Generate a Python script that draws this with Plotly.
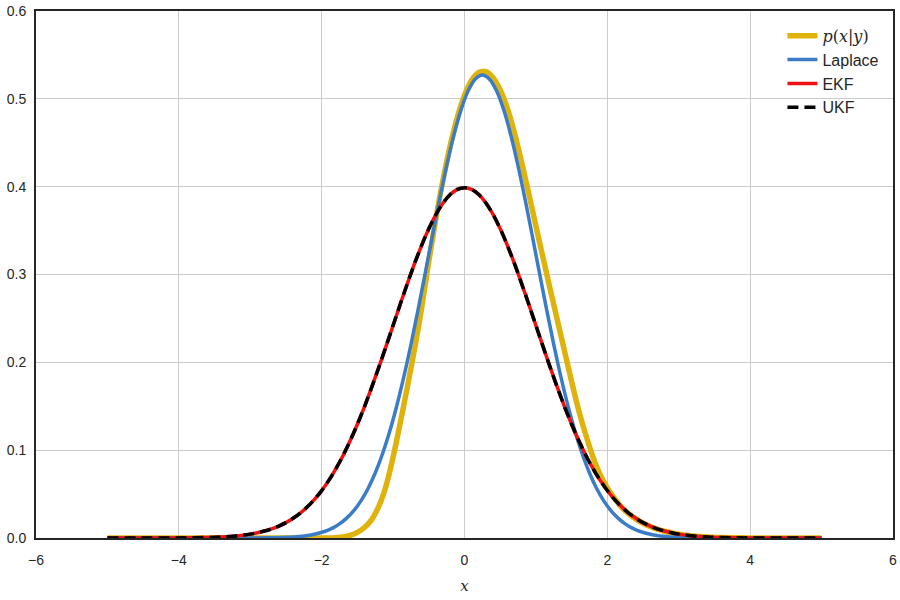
import plotly.graph_objects as go

# ---- data ----
# EKF / UKF (identical curves)
x_ekf = [-5.0, -4.5, -4.0, -3.8, -3.6, -3.4, -3.2, -3.0, -2.9, -2.8, -2.7, -2.6, -2.5, -2.4,
         -2.3, -2.2, -2.1, -2.0, -1.9, -1.8, -1.7, -1.6, -1.5, -1.4, -1.3, -1.2, -1.1, -1.0,
         -0.9, -0.8, -0.7, -0.6, -0.5, -0.4, -0.3, -0.2, -0.1, 0.0, 0.1, 0.2, 0.3, 0.4, 0.5,
         0.6, 0.7, 0.8, 0.9, 1.0, 1.1, 1.2, 1.3, 1.4, 1.5, 1.6, 1.7, 1.8, 1.9, 2.0, 2.1, 2.2,
         2.3, 2.4, 2.5, 2.6, 2.7, 2.8, 2.9, 3.0, 3.2, 3.4, 3.6, 3.8, 4.0, 4.5, 5.0]
y_ekf = [0.0, 0.00002, 0.0001, 0.0003, 0.0006, 0.0012, 0.0024, 0.0044, 0.006, 0.0079, 0.0104,
         0.0136, 0.0175, 0.0224, 0.0283, 0.0355, 0.044, 0.054, 0.0656, 0.079, 0.094, 0.1109,
         0.1295, 0.1497, 0.1714, 0.1942, 0.2179, 0.242, 0.2661, 0.2897, 0.3123, 0.3332, 0.3521,
         0.3683, 0.3814, 0.391, 0.397, 0.3989, 0.397, 0.391, 0.3814, 0.3683, 0.3521, 0.3332,
         0.3123, 0.2897, 0.2661, 0.242, 0.2179, 0.1942, 0.1714, 0.1497, 0.1295, 0.1109, 0.094,
         0.079, 0.0656, 0.054, 0.044, 0.0355, 0.0283, 0.0224, 0.0175, 0.0136, 0.0104, 0.0079,
         0.006, 0.0044, 0.0024, 0.0012, 0.0006, 0.0003, 0.0001, 0.00002, 0.0]
y_ukf = [0.0, 0.00002, 0.0001, 0.0003, 0.0006, 0.0012, 0.0024, 0.0044, 0.006, 0.0079, 0.0104,
         0.0136, 0.0175, 0.0224, 0.0283, 0.0355, 0.044, 0.054, 0.0656, 0.079, 0.094, 0.1109,
         0.1295, 0.1497, 0.1714, 0.1942, 0.2179, 0.242, 0.2661, 0.2897, 0.3123, 0.3332, 0.3521,
         0.3683, 0.3814, 0.391, 0.397, 0.3989, 0.397, 0.391, 0.3814, 0.3683, 0.3521, 0.3332,
         0.3123, 0.2897, 0.2661, 0.242, 0.2179, 0.1942, 0.1714, 0.1497, 0.1295, 0.1109, 0.094,
         0.079, 0.0656, 0.054, 0.044, 0.0355, 0.0283, 0.0224, 0.0175, 0.0136, 0.0104, 0.0079,
         0.006, 0.0044, 0.0024, 0.0012, 0.0006, 0.0003, 0.0001, 0.00002, 0.0]

# Laplace approximation
x_lap = [-5.0, -4.0, -3.15, -2.75, -2.55, -2.35, -2.15, -1.95, -1.85, -1.75, -1.65, -1.55,
         -1.45, -1.35, -1.25, -1.15, -1.05, -0.95, -0.85, -0.75, -0.65, -0.55, -0.45, -0.35,
         -0.25, -0.15, -0.05, 0.05, 0.15, 0.25, 0.35, 0.45, 0.55, 0.65, 0.75, 0.85, 0.95, 1.05,
         1.15, 1.25, 1.35, 1.45, 1.55, 1.65, 1.75, 1.85, 1.95, 2.05, 2.15, 2.25, 2.35, 2.45,
         2.65, 2.85, 3.05, 3.25, 3.65, 4.0, 5.0]
y_lap = [0.0, 0.0, 0.00002, 0.0002, 0.0006, 0.0014, 0.0035, 0.0077, 0.0112, 0.0161, 0.0226,
         0.0312, 0.0423, 0.0564, 0.074, 0.0953, 0.1206, 0.15, 0.1834, 0.2202, 0.26, 0.3015,
         0.3437, 0.3849, 0.4237, 0.4583, 0.4872, 0.5089, 0.5224, 0.527, 0.5224, 0.5089, 0.4872,
         0.4583, 0.4237, 0.3849, 0.3437, 0.3015, 0.26, 0.2202, 0.1834, 0.15, 0.1206, 0.0953,
         0.074, 0.0564, 0.0423, 0.0312, 0.0226, 0.0161, 0.0112, 0.0077, 0.0035, 0.0014, 0.0006,
         0.0002, 0.00002, 0.0, 0.0]

# true posterior p(x|y)
x_post = [-5.0, -4.0, -3.0, -2.5, -2.0, -1.9, -1.8, -1.7, -1.6, -1.5, -1.4, -1.3, -1.2, -1.1,
          -1.0, -0.9, -0.8, -0.7, -0.6, -0.5, -0.4, -0.3, -0.2, -0.1, 0.0, 0.1, 0.2, 0.3, 0.4,
          0.5, 0.6, 0.7, 0.8, 0.9, 1.0, 1.1, 1.2, 1.3, 1.4, 1.5, 1.6, 1.7, 1.8, 1.9, 2.0, 2.1,
          2.2, 2.3, 2.4, 2.5, 2.6, 2.7, 2.8, 2.9, 3.0, 3.2, 3.4, 3.6, 3.8, 4.0, 4.5, 5.0]
y_post = [0.0, 0.0, 0.0, 0.0, 0.0, 0.0, 0.0004, 0.0012, 0.003, 0.0065, 0.012, 0.021, 0.036,
          0.059, 0.092, 0.131, 0.172, 0.215, 0.262, 0.315, 0.364, 0.408, 0.447, 0.479, 0.504,
          0.521, 0.53, 0.531, 0.524, 0.51, 0.489, 0.461, 0.428, 0.392, 0.355, 0.319, 0.283,
          0.248, 0.213, 0.178, 0.145, 0.117, 0.092, 0.072, 0.057, 0.045, 0.035, 0.0275, 0.0215,
          0.0168, 0.013, 0.01, 0.0077, 0.0059, 0.0044, 0.0024, 0.0012, 0.0006, 0.0003, 0.0001,
          0.0, 0.0]

x_ticks = [-6, -4, -2, 0, 2, 4, 6]
y_ticks = [0.0, 0.1, 0.2, 0.3, 0.4, 0.5, 0.6]

DARK = "#262626"
serif = "DejaVu Serif"
line_shape = dict(shape="spline", smoothing=1.0)

fig = go.Figure()
fig.add_trace(go.Scatter(
    x=x_post, y=y_post, mode="lines", line=dict(color="#dfb30c", width=5.5, **line_shape),
    name=f'<span style="font-family:{serif}"><i>p</i>(<i>x</i>|<i>y</i>)</span>'))
fig.add_trace(go.Scatter(
    x=x_lap, y=y_lap, mode="lines", line=dict(color="#3a7dc6", width=3.5, **line_shape),
    name="Laplace"))
fig.add_trace(go.Scatter(
    x=x_ekf, y=y_ekf, mode="lines", line=dict(color="#ee1111", width=3.5, **line_shape),
    name="EKF"))
fig.add_trace(go.Scatter(
    x=x_ekf, y=y_ukf, mode="lines", line=dict(color="black", width=3.5, dash="11px,6px", **line_shape),
    name="UKF"))

fig.update_layout(
    width=900, height=600,
    margin=dict(l=36, r=7, t=11, b=62),
    paper_bgcolor="white", plot_bgcolor="white",
    font=dict(family="Liberation Sans, Arial, sans-serif", size=14, color=DARK),
    showlegend=True,
    legend=dict(x=0.99, y=0.985, xanchor="right", yanchor="top", bgcolor="rgba(0,0,0,0)",
                font=dict(size=16, color=DARK)),
    xaxis=dict(range=[-6, 6], tickvals=x_ticks,
               ticktext=[("−" + str(-v)) if v < 0 else str(v) for v in x_ticks],
               showgrid=True, gridcolor="#cccccc", gridwidth=1, zeroline=False, automargin=False,
               showline=True, linecolor=DARK, linewidth=2, mirror=True,
               ticks="outside", ticklen=8, tickcolor="rgba(0,0,0,0)",
               title=dict(text=f'<span style="font-family:{serif}"><i>x</i></span>',
                          font=dict(size=15), standoff=14)),
    yaxis=dict(range=[0, 0.6], tickvals=y_ticks, ticktext=[f"{v:.1f}" for v in y_ticks],
               showgrid=True, gridcolor="#cccccc", gridwidth=1, zeroline=False, automargin=False,
               showline=True, linecolor=DARK, linewidth=2, mirror=True,
               ticks="outside", ticklen=5, tickcolor="rgba(0,0,0,0)"),
)

fig.write_html("out.html")
